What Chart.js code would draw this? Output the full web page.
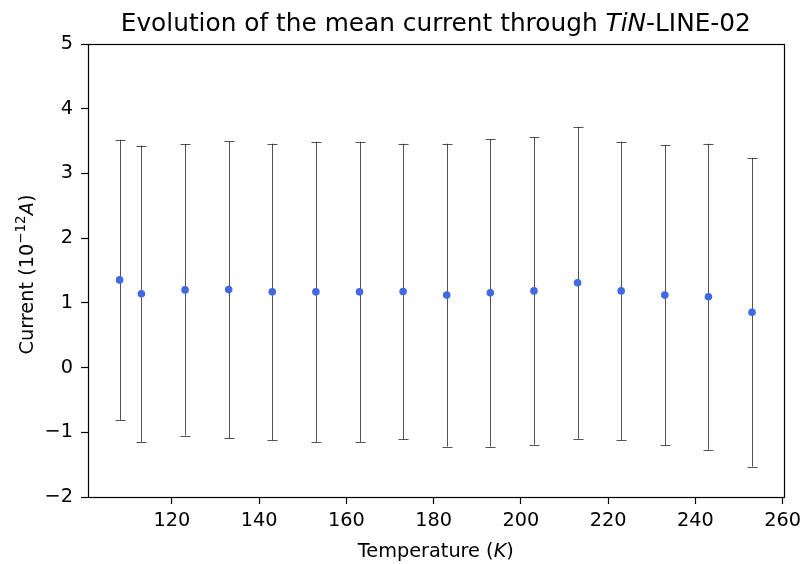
<!DOCTYPE html>
<html><head><meta charset="utf-8">
<script src="https://cdn.jsdelivr.net/npm/chart.js@4"></script>
<style>html,body{margin:0;padding:0;background:#fff}</style>
</head><body>
<canvas id="c" width="806" height="564"></canvas>
<script>
const temperatures = [108,113,123,133,143,153,163,173,183,193,203,213,223,233,243,253];
const meanCurrent  = [1.355,1.14,1.20,1.205,1.17,1.17,1.17,1.175,1.12,1.155,1.185,1.31,1.185,1.12,1.095,0.855];
const errCurrent   = [2.165,2.29,2.25,2.295,2.29,2.32,2.32,2.285,2.34,2.375,2.375,2.41,2.305,2.32,2.365,2.385];
const xTicks = [120,140,160,180,200,220,240,260];
const yTicks = [-2,-1,0,1,2,3,4,5];
const titleParts = [["Evolution of the mean current through ","n"],["TiN","i"],["-LINE-02","n"]];
const xLabelParts = [["Temperature (","n"],["K","i"],[")","n"]];
const yLabelParts = [["Current (","n"],["10","n"],["\u221212","s"],["A","i"],[")","n"]];

const FAM = "'DejaVu Sans'";
function fontFor(kind, size){
  if(kind==="i") return "italic "+size+"px "+FAM;
  if(kind==="s") return Math.round(size*0.7*10)/10+"px "+FAM;
  return size+"px "+FAM;
}
function drawRich(ctx, parts, size, cx, cy, rot){
  ctx.save();
  ctx.translate(cx, cy);
  if(rot) ctx.rotate(rot);
  ctx.textBaseline = "alphabetic";
  ctx.textAlign = "left";
  ctx.fillStyle = "#000";
  let total = 0;
  const widths = parts.map(p=>{ctx.font=fontFor(p[1],size); const w=ctx.measureText(p[0]).width; total+=w; return w;});
  let x = -total/2;
  parts.forEach((p,i)=>{
    ctx.font=fontFor(p[1],size);
    const dy = p[1]==="s" ? -size*0.42 : 0;
    ctx.fillText(p[0], x, dy);
    x += widths[i];
  });
  ctx.restore();
}

const errorBars = {
  id:'errorBars',
  beforeDatasetsDraw(chart){
    const {ctx, scales:{x, y}} = chart;
    ctx.save();
    ctx.strokeStyle = "rgba(40,40,40,0.8)";
    ctx.lineWidth = 1;
    temperatures.forEach((t,i)=>{
      const px = Math.round(x.getPixelForValue(t))+0.5;
      const top = y.getPixelForValue(meanCurrent[i]+errCurrent[i]);
      const bot = y.getPixelForValue(meanCurrent[i]-errCurrent[i]);
      ctx.beginPath();
      ctx.moveTo(px, top); ctx.lineTo(px, bot);
      ctx.moveTo(px-5, Math.round(top)+0.5); ctx.lineTo(px+5, Math.round(top)+0.5);
      ctx.moveTo(px-5, Math.round(bot)+0.5); ctx.lineTo(px+5, Math.round(bot)+0.5);
      ctx.stroke();
    });
    ctx.restore();
  },
  afterDraw(chart){
    const {ctx, chartArea:a} = chart;
    ctx.save();
    ctx.strokeStyle = "#000";
    ctx.lineWidth = 1.2;
    ctx.strokeRect(Math.round(a.left)+0.5, Math.round(a.top)+0.5, Math.round(a.right-a.left), Math.round(a.bottom-a.top));
    ctx.restore();
    const cx = (a.left+a.right)/2;
    drawRich(ctx, titleParts, 24.8, cx, 31, 0);
    drawRich(ctx, xLabelParts, 19.3, cx, 557, 0);
    drawRich(ctx, yLabelParts, 19.3, 33, (a.top+a.bottom)/2 + 4, -Math.PI/2);
  }
};

const tickFont = {family: FAM, size: 19.3};
new Chart(document.getElementById('c'), {
  type: 'scatter',
  data: { datasets: [{
    data: temperatures.map((t,i)=>({x:t, y:meanCurrent[i]})),
    backgroundColor: '#4169e1',
    borderWidth: 0,
    pointRadius: 3.8,
    pointHoverRadius: 3.8,
    showLine: false
  }]},
  options: {
    responsive: false,
    animation: false,
    devicePixelRatio: 1,
    layout: {padding: {top: 44, right: 21, left: 0, bottom: 0}},
    plugins: {legend: {display: false}, tooltip: {enabled: false}, title: {display: false}},
    scales: {
      x: {
        type: 'linear', min: 100.75, max: 260.25,
        afterBuildTicks: s => { s.ticks = xTicks.map(v => ({value: v})); },
        afterFit: s => { s.height = 67; },
        border: {display: false},
        grid: {drawOnChartArea: false, drawTicks: true, tickLength: 7, tickColor: '#000', tickWidth: 1.2},
        ticks: {color: '#000', font: tickFont, padding: 5, maxRotation: 0, autoSkip: false, callback: v => String(v)}
      },
      y: {
        type: 'linear', min: -2, max: 5,
        afterBuildTicks: s => { s.ticks = yTicks.map(v => ({value: v})); },
        afterFit: s => { s.width = 88; },
        border: {display: false},
        grid: {drawOnChartArea: false, drawTicks: true, tickLength: 7, tickColor: '#000', tickWidth: 1.2},
        ticks: {color: '#000', font: tickFont, padding: 8, autoSkip: false, callback: v => String(v).replace('-', '\u2212')}
      }
    }
  },
  plugins: [errorBars]
});
</script>
</body></html>
